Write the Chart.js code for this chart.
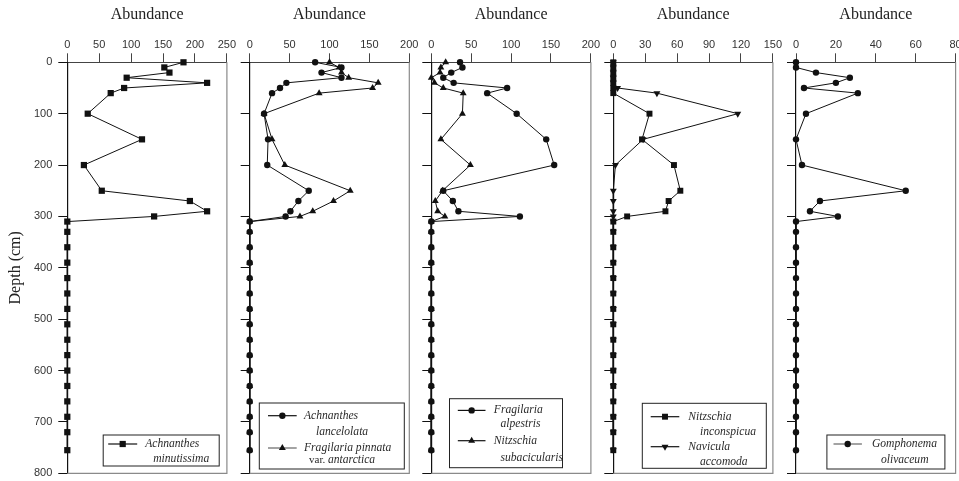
<!DOCTYPE html>
<html>
<head>
<meta charset="utf-8">
<script src="https://cdn.jsdelivr.net/npm/chart.js@4.4.1/dist/chart.umd.min.js"></script>
<style>
  html, body { margin: 0; padding: 0; background: #fff; }
  #wrap { position: relative; width: 959px; height: 481px; overflow: hidden; }
  #wrap canvas { position: absolute; left: 0; top: 0; }
</style>
</head>
<body>
<div id="wrap"></div>
<script>
// Sample depths (cm) shared by every taxon profile
const depthCm = [0, 10, 20, 30, 40, 50, 60, 100, 150, 200, 250, 270, 290, 300,
                 310, 330, 360, 390, 420, 450, 480, 510, 540, 570, 600, 630, 660, 690, 720, 755];

// Abundance per depth for each taxon
const achnanthesMinutissima   = [182, 152, 160, 93, 219, 89, 68, 32, 117, 26, 54, 192, 219, 136,
                                 0, 0, 0, 0, 0, 0, 0, 0, 0, 0, 0, 0, 0, 0, 0, 0];
const achnanthesLancelolata   = [82, 115, 90, 115, 46, 38, 28, 18, 23, 22, 74, 61, 51, 45,
                                 0, 0, 0, 0, 0, 0, 0, 0, 0, 0, 0, 0, 0, 0, 0, 0];
const fragilariaPinnata       = [100, 112, 115, 124, 161, 154, 87, 18, 28, 44, 126, 105, 79, 63,
                                 0, 0, 0, 0, 0, 0, 0, 0, 0, 0, 0, 0, 0, 0, 0, 0];
const fragilariaAlpestris     = [36, 39, 25, 15, 28, 95, 70, 107, 144, 154, 15, 27, 34, 111,
                                 0, 0, 0, 0, 0, 0, 0, 0, 0, 0, 0, 0, 0, 0, 0, 0];
const nitzschiaSubacicularis  = [18, 12, 11, 0, 4, 15, 40, 39, 12, 49, 14, 5, 8, 17,
                                 0, 0, 0, 0, 0, 0, 0, 0, 0, 0, 0, 0, 0, 0, 0, 0];
const nitzschiaInconspicua    = [0, 0, 0, 0, 0, 0, 0, 34, 27, 57, 63, 52, 49, 13,
                                 0, 0, 0, 0, 0, 0, 0, 0, 0, 0, 0, 0, 0, 0, 0, 0];
const naviculaAccomoda        = [0, 0, 0, 0, 0, 4, 41, 117, 28, 2, 0, 0, 0, 0,
                                 0, 0, 0, 0, 0, 0, 0, 0, 0, 0, 0, 0, 0, 0, 0, 0];
const gomphonemaOlivaceum     = [0, 0, 10, 27, 20, 4, 31, 5, 0, 3, 55, 12, 7, 21,
                                 0, 0, 0, 0, 0, 0, 0, 0, 0, 0, 0, 0, 0, 0, 0, 0];

// Axis ranges per panel
const abundanceMax  = [250, 200, 200, 150, 80];
const abundanceStep = [50, 50, 50, 30, 20];
const depthTicks = { min: 0, max: 800, step: 100 };

// Legend label segments (italic species names)
const it = t => ({ t, italic: true });
const up = t => ({ t, italic: false });

const PLOT_TOP = 62.3;
const PLOT_BOTTOM = 473.3;
const panelLeft  = [67.3, 249.7, 431.3, 613.3, 796];
const PANEL_W = 159.6;

const panels = [
  {
    series: [
      { label: [[it('Achnanthes')], [it('minutissima')]], values: achnanthesMinutissima, marker: 'rect', radius: 4.4 }
    ],
    legend: { w: 116, h: 31, right: 7.7, bottom: 7.3, sample: [5, 34], tx: 42,
              rows: [{ y1: 9, y2: 24, tx2: 50, color: '#111' }] }
  },
  {
    series: [
      { label: [[it('Achnanthes')], [it('lancelolata')]], values: achnanthesLancelolata, marker: 'circle', radius: 3.2 },
      { label: [[it('Fragilaria pinnata')], [up('var. '), it('antarctica')]], values: fragilariaPinnata, marker: 'triangle', radius: 4 }
    ],
    legend: { w: 145, h: 66, right: 5, bottom: 4.3, sample: [8.7, 37.4], tx: 44.7,
              rows: [{ y1: 12.7, y2: 28.7, tx2: 56.7, color: '#111' }, { y1: 45, y2: 57, tx2: 49.7, color: '#666' }] }
  },
  {
    series: [
      { label: [[it('Fragilaria')], [it('alpestris')]], values: fragilariaAlpestris, marker: 'circle', radius: 3.2 },
      { label: [[it('Nitzschia')], [it('subacicularis')]], values: nitzschiaSubacicularis, marker: 'triangle', radius: 4 }
    ],
    legend: { w: 113, h: 69, right: 28.4, bottom: 5.6, sample: [8.3, 36], tx: 44.3,
              rows: [{ y1: 11.7, y2: 25.7, tx2: 51, color: '#111' }, { y1: 42, y2: 59, tx2: 51, color: '#111' }] }
  },
  {
    series: [
      { label: [[it('Nitzschia')], [it('inconspicua')]], values: nitzschiaInconspicua, marker: 'rect', radius: 4.2 },
      { label: [[it('Navicula')], [it('accomoda')]], values: naviculaAccomoda, marker: 'triangle', radius: 4, rotation: 180 }
    ],
    legend: { w: 124, h: 65, right: 6.6, bottom: 5, sample: [8.4, 37], tx: 46,
              rows: [{ y1: 13.4, y2: 28.4, tx2: 57.7, color: '#111' }, { y1: 43.4, y2: 58.4, tx2: 57.7, color: '#111' }] }
  },
  {
    series: [
      { label: [[it('Gomphonema')], [it('olivaceum')]], values: gomphonemaOlivaceum, marker: 'circle', radius: 3.2 }
    ],
    legend: { w: 118, h: 34, right: 10.7, bottom: 4.3, sample: [6.6, 35], tx: 45,
              rows: [{ y1: 9, y2: 25.3, tx2: 54, color: '#666' }] }
  }
];

// Draws one point marker on a plain canvas context
function drawMarker(ctx, style, x, y, r, rot) {
  ctx.save();
  ctx.fillStyle = '#111';
  ctx.beginPath();
  if (style === 'circle') {
    ctx.arc(x, y, r, 0, Math.PI * 2);
  } else if (style === 'rect') {
    const s = r * Math.SQRT1_2;
    ctx.rect(x - s, y - s, 2 * s, 2 * s);
  } else {
    let a = (rot || 0) * Math.PI / 180;
    ctx.moveTo(x + Math.sin(a) * r, y - Math.cos(a) * r);
    a += 2 * Math.PI / 3;
    ctx.lineTo(x + Math.sin(a) * r, y - Math.cos(a) * r);
    a += 2 * Math.PI / 3;
    ctx.lineTo(x + Math.sin(a) * r, y - Math.cos(a) * r);
    ctx.closePath();
  }
  ctx.fill();
  ctx.restore();
}

// Grey right and bottom edges of each panel box
const frameEdges = {
  id: 'frameEdges',
  beforeDatasetsDraw(chart) {
    const { ctx, chartArea: a } = chart;
    ctx.save();
    ctx.strokeStyle = '#8a8a8a';
    ctx.lineWidth = 1.2;
    ctx.beginPath();
    ctx.moveTo(a.right, a.top);
    ctx.lineTo(a.right, a.bottom);
    ctx.lineTo(a.left, a.bottom);
    ctx.stroke();
    ctx.restore();
  }
};

// Boxed legend in the lower right of each panel
const boxedLegend = {
  id: 'boxedLegend',
  afterDraw(chart, args, opts) {
    const p = opts.panel;
    const L = p.legend;
    const { ctx, chartArea: a } = chart;
    const bx = a.right - L.right - L.w;
    const by = a.bottom - L.bottom - L.h;
    ctx.save();
    ctx.fillStyle = '#fff';
    ctx.fillRect(bx, by, L.w, L.h);
    ctx.strokeStyle = '#222';
    ctx.lineWidth = 1;
    ctx.strokeRect(bx, by, L.w, L.h);
    p.series.forEach((s, i) => {
      const row = L.rows[i];
      const ly = by + row.y1;
      ctx.strokeStyle = row.color;
      ctx.lineWidth = 1.2;
      ctx.beginPath();
      ctx.moveTo(bx + L.sample[0], ly);
      ctx.lineTo(bx + L.sample[1], ly);
      ctx.stroke();
      drawMarker(ctx, s.marker, bx + (L.sample[0] + L.sample[1]) / 2, ly, s.radius, s.rotation);
      ctx.fillStyle = '#2a2a2a';
      ctx.textBaseline = 'middle';
      ctx.textAlign = 'left';
      s.label.forEach((line, li) => {
        let x = bx + (li === 0 ? L.tx : row.tx2);
        const y = by + (li === 0 ? row.y1 : row.y2);
        line.forEach(seg => {
          ctx.font = (seg.italic ? 'italic 11.6px ' : '11px ') + '"Liberation Serif", "Times New Roman", serif';
          ctx.fillText(seg.t, x, y);
          x += ctx.measureText(seg.t).width;
        });
      });
    });
    ctx.restore();
  }
};

const wrap = document.getElementById('wrap');

panels.forEach((p, idx) => {
  const first = idx === 0;
  const canvas = document.createElement('canvas');
  canvas.width = 959;
  canvas.height = 481;
  canvas.style.width = '959px';
  canvas.style.height = '481px';
  wrap.appendChild(canvas);

  const yWidth = first ? panelLeft[0] : 10;
  const padLeft = panelLeft[idx] - yWidth;
  const padRight = 959 - (panelLeft[idx] + PANEL_W);

  new Chart(canvas, {
    type: 'scatter',
    data: {
      datasets: p.series.map(s => ({
        label: s.label.map(l => l.map(seg => seg.t).join('')).join(' '),
        data: depthCm.map((d, i) => ({ x: s.values[i], y: d })),
        showLine: true,
        borderColor: '#111',
        borderWidth: 1,
        backgroundColor: '#111',
        pointBackgroundColor: '#111',
        pointBorderWidth: 0,
        pointStyle: s.marker,
        pointRadius: s.radius,
        pointRotation: s.rotation || 0,
        clip: false,
        tension: 0
      }))
    },
    options: {
      responsive: false,
      animation: false,
      devicePixelRatio: 1,
      layout: {
        autoPadding: false,
        padding: { left: padLeft, right: padRight, top: 0, bottom: 481 - PLOT_BOTTOM }
      },
      plugins: {
        legend: { display: false },
        tooltip: { enabled: false },
        boxedLegend: { panel: p }
      },
      scales: {
        x: {
          type: 'linear',
          position: 'top',
          min: 0,
          max: abundanceMax[idx],
          ticks: {
            stepSize: abundanceStep[idx],
            autoSkip: false,
            maxRotation: 0,
            padding: 2,
            color: '#333',
            font: { family: '"Liberation Sans", Arial, sans-serif', size: 11 }
          },
          grid: { drawOnChartArea: false, drawTicks: true, tickLength: 9, color: '#444', lineWidth: 1 },
          border: { display: true, color: '#444', width: 1 },
          title: {
            display: true,
            text: 'Abundance',
            color: '#222',
            font: { family: '"Liberation Serif", "Times New Roman", serif', size: 16 },
            padding: { top: 5, bottom: 0 }
          },
          afterFit: s => {
            s.height = PLOT_TOP;
            s.paddingLeft = 0;
            s.paddingRight = 0;
          }
        },
        y: {
          type: 'linear',
          position: 'left',
          reverse: true,
          min: depthTicks.min,
          max: depthTicks.max,
          ticks: {
            display: first,
            stepSize: depthTicks.step,
            autoSkip: false,
            padding: 6,
            color: '#333',
            font: { family: '"Liberation Sans", Arial, sans-serif', size: 11 }
          },
          grid: { drawOnChartArea: false, drawTicks: true, tickLength: 9, color: '#111', lineWidth: 1 },
          border: { display: true, color: '#111', width: 1.2 },
          title: {
            display: first,
            text: 'Depth (cm)',
            color: '#222',
            font: { family: '"Liberation Serif", "Times New Roman", serif', size: 16 },
            padding: { top: 6, bottom: 0 }
          },
          afterFit: s => {
            s.width = yWidth;
            s.paddingTop = 0;
            s.paddingBottom = 0;
          }
        }
      }
    },
    plugins: [frameEdges, boxedLegend]
  });
});
</script>
</body>
</html>
